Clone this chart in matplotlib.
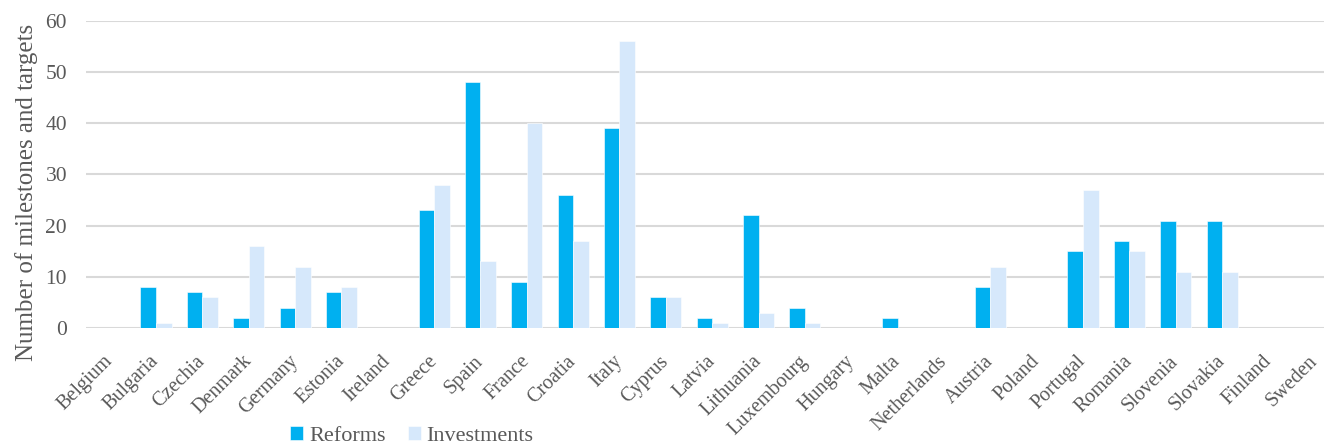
import numpy as np
import matplotlib.pyplot as plt

countries = ["Belgium", "Bulgaria", "Czechia", "Denmark", "Germany", "Estonia", "Ireland",
             "Greece", "Spain", "France", "Croatia", "Italy", "Cyprus", "Latvia", "Lithuania",
             "Luxembourg", "Hungary", "Malta", "Netherlands", "Austria", "Poland", "Portugal",
             "Romania", "Slovenia", "Slovakia", "Finland", "Sweden"]
reforms = [0, 8, 7, 2, 4, 7, 0, 23, 48, 9, 26, 39, 6, 2, 22, 4, 0, 2, 0, 8, 0, 15, 17, 21, 21, 0, 0]
investments = [0, 1, 6, 16, 12, 8, 0, 28, 13, 40, 17, 56, 6, 1, 3, 1, 0, 0, 0, 12, 0, 27, 15, 11, 11, 0, 0]

plt.rcParams['font.family'] = ['Liberation Serif', 'DejaVu Serif']
grey = '#595959'

fig = plt.figure(figsize=(13.24, 4.46), dpi=100)
# plot area runs a bit past the right edge, as in the original crop
ax = fig.add_axes([0.0653, 0.2646, 0.9452, 0.6884])

x = np.arange(len(countries))
w = 0.335
ax.bar(x - w / 2, reforms, w, color='#00b0f0', edgecolor='white', linewidth=0.4, label='Reforms', zorder=3)
ax.bar(x + w / 2, investments, w, color='#d6e8fb', edgecolor='white', linewidth=0.4, label='Investments', zorder=3)

ax.set_xlim(-0.5, len(countries) - 0.5)
ax.set_ylim(0, 60)
ax.set_yticks(range(0, 61, 10))
ax.grid(axis='y', color='#d9d9d9', linewidth=1.5, zorder=0)
for s in ax.spines.values():
    s.set_visible(False)
ax.tick_params(length=0, colors=grey)
ax.tick_params(axis='y', pad=14, labelsize=15.5)
ax.tick_params(axis='x', pad=22, labelsize=14.5)
ax.set_xticks(x)
ax.set_xticklabels(countries, rotation=45, ha='right', va='center', rotation_mode='anchor')
ax.set_ylabel('Number of milestones and targets', fontsize=18, color=grey)
ax.yaxis.set_label_coords(-0.039, 0.443)

fig.legend(loc='center', bbox_to_anchor=(0.311, 0.022), ncol=2, frameon=False,
           fontsize=16, labelcolor=grey, handlelength=0.6, handleheight=0.6,
           handletextpad=0.25, columnspacing=1.0)

fig.savefig('out.png', dpi=100)
